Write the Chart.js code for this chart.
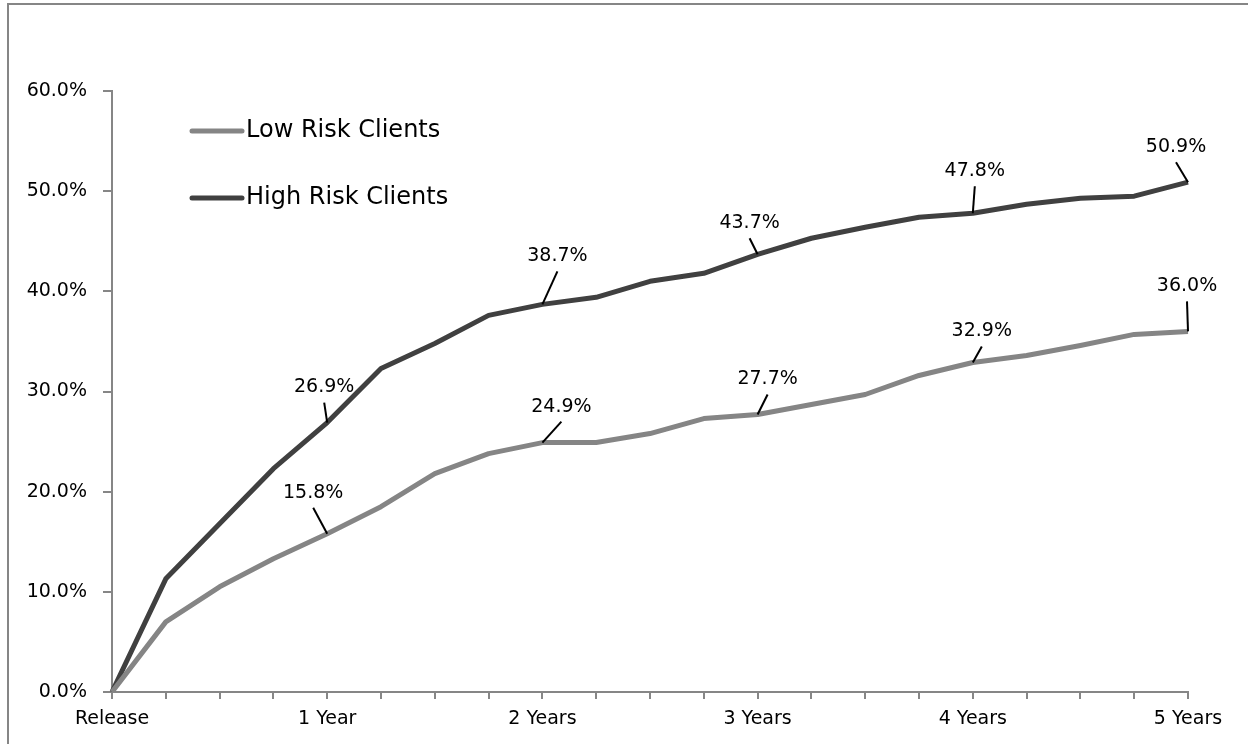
<!DOCTYPE html>
<html>
<head>
<meta charset="utf-8">
<style>
  html, body { margin: 0; padding: 0; background: #fff; }
  canvas { display: block; }
</style>
<script src="https://cdn.jsdelivr.net/npm/chart.js@4"></script>
</head>
<body>
<canvas id="recidChart" width="1248" height="744"></canvas>
<script>
// quarters since release, only whole years carry a label
const categories = ["Release", "", "", "", "1 Year", "", "", "", "2 Years", "", "", "",
  "3 Years", "", "", "", "4 Years", "", "", "", "5 Years"];
const lowRisk = [0, 7.0, 10.5, 13.3, 15.8, 18.5, 21.8, 23.8, 24.9, 24.9, 25.8, 27.3,
  27.7, 28.7, 29.7, 31.6, 32.9, 33.6, 34.6, 35.7, 36.0];
const highRisk = [0, 11.3, 16.8, 22.3, 26.9, 32.3, 34.8, 37.6, 38.7, 39.4, 41.0, 41.8,
  43.7, 45.3, 46.4, 47.4, 47.8, 48.7, 49.3, 49.5, 50.9];
const labeledPoints = [4, 8, 12, 16, 20];

const FONT = "'DejaVu Sans', sans-serif";
const AXIS = "#868686";

// where each value label sits relative to its point (dx, dy of text centre)
const labelOffsets = [
  { 4: [-14, -41], 8: [19, -36], 12: [10, -35], 16: [9, -31], 20: [-1, -45] },
  { 4: [-3, -35], 8: [15, -48], 12: [-8, -31], 16: [2, -42], 20: [-12, -35] },
];

const overlay = {
  id: "overlay",
  beforeDraw(chart) {
    const ctx = chart.ctx;
    ctx.save();
    ctx.strokeStyle = AXIS;
    ctx.lineWidth = 2;
    ctx.beginPath();
    ctx.moveTo(8, 744);
    ctx.lineTo(8, 4);
    ctx.lineTo(1248, 4);
    ctx.stroke();
    ctx.restore();
  },
  afterDatasetsDraw(chart) {
    const ctx = chart.ctx;
    ctx.save();

    // legend inside the plot, top-left
    const legendY = [131, 198];
    chart.data.datasets.forEach((ds, i) => {
      ctx.strokeStyle = ds.borderColor;
      ctx.lineWidth = 5;
      ctx.lineCap = "round";
      ctx.beginPath();
      ctx.moveTo(192, legendY[i]);
      ctx.lineTo(242, legendY[i]);
      ctx.stroke();
      ctx.fillStyle = "#000";
      ctx.font = "24px " + FONT;
      ctx.textAlign = "left";
      ctx.textBaseline = "middle";
      ctx.fillText(ds.label, 246, legendY[i]);
    });

    // value labels with leader lines
    ctx.font = "19px " + FONT;
    ctx.textAlign = "center";
    ctx.textBaseline = "middle";
    chart.data.datasets.forEach((ds, i) => {
      const meta = chart.getDatasetMeta(i);
      labeledPoints.forEach((idx) => {
        const pt = meta.data[idx];
        const [dx, dy] = labelOffsets[i][idx];
        const tx = pt.x + dx;
        const ty = pt.y + dy;
        ctx.strokeStyle = "#000";
        ctx.lineWidth = 2;
        ctx.lineCap = "butt";
        ctx.beginPath();
        ctx.moveTo(pt.x, pt.y);
        ctx.lineTo(tx, ty + 15);
        ctx.stroke();
        ctx.fillStyle = "#000";
        ctx.fillText(ds.data[idx].toFixed(1) + "%", tx, ty);
      });
    });
    ctx.restore();
  },
};

new Chart(document.getElementById("recidChart"), {
  type: "line",
  data: {
    labels: categories,
    datasets: [
      {
        label: "Low Risk Clients",
        data: lowRisk,
        borderColor: "#858585",
        borderWidth: 5,
        pointRadius: 0,
        tension: 0,
        borderJoinStyle: "round",
      },
      {
        label: "High Risk Clients",
        data: highRisk,
        borderColor: "#404040",
        borderWidth: 5,
        pointRadius: 0,
        tension: 0,
        borderJoinStyle: "round",
      },
    ],
  },
  options: {
    responsive: false,
    animation: false,
    devicePixelRatio: 1,
    layout: { padding: { left: 0, top: 91, right: 60, bottom: 0 } },
    plugins: {
      legend: { display: false },
      tooltip: { enabled: false },
    },
    scales: {
      x: {
        offset: false,
        afterFit: (s) => { s.height = 52; },
        border: { display: true, color: AXIS, width: 2 },
        grid: { drawOnChartArea: false, drawTicks: true, tickLength: 7, color: AXIS, lineWidth: 2 },
        ticks: {
          autoSkip: false,
          maxRotation: 0,
          padding: 9,
          color: "#000",
          font: { family: FONT, size: 19 },
        },
      },
      y: {
        min: 0,
        max: 60,
        afterFit: (s) => { s.width = 112; },
        border: { display: true, color: AXIS, width: 2 },
        grid: { drawOnChartArea: false, drawTicks: true, tickLength: 9, color: AXIS, lineWidth: 2 },
        ticks: {
          stepSize: 10,
          padding: 16,
          color: "#000",
          font: { family: FONT, size: 19 },
          callback: (v) => Number(v).toFixed(1) + "%",
        },
      },
    },
  },
  plugins: [overlay],
});
</script>
</body>
</html>
